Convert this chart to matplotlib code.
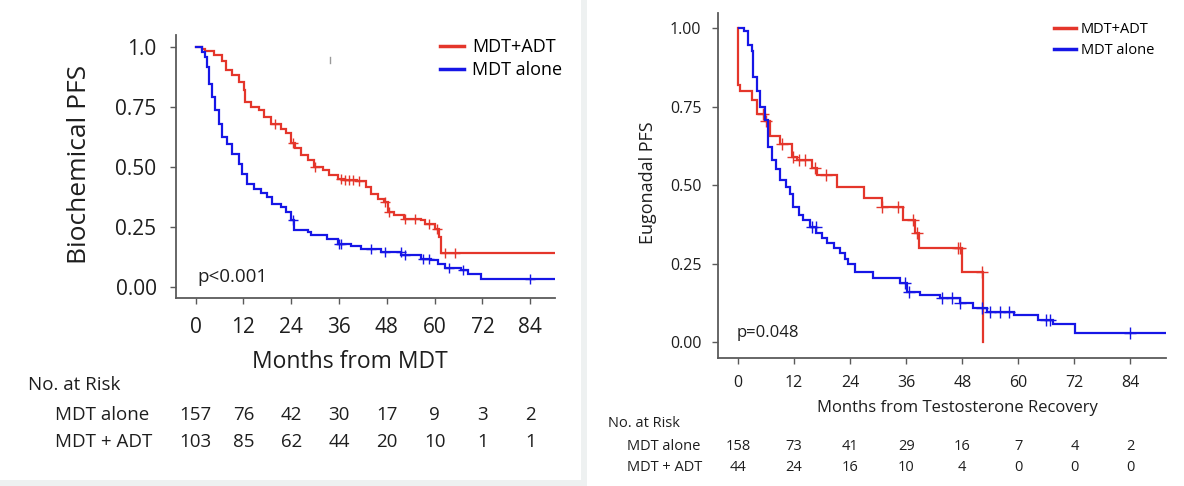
import numpy as np
import matplotlib
matplotlib.use("Agg")
import matplotlib.pyplot as plt
from matplotlib.lines import Line2D
from matplotlib.patches import Rectangle
from matplotlib.transforms import blended_transform_factory

plt.rcParams['font.family'] = ['Open Sans', 'DejaVu Sans']

# =====================================================================
# DATA
# =====================================================================
RED = '#e4362b'
BLUE = '#1616e6'

# left panel: biochemical PFS, months from MDT
bio_adt_t = [0, 1.5, 2.5, 4.6, 6.7, 7.6, 9.2, 10.9, 12.2, 12.4, 13.8, 15.9, 17.2, 18.9,
             21.4, 22.7, 23.9, 25.0, 26.4, 28.1, 29.8, 31.9, 33.6, 35.7, 37.3, 40.5,
             42.8, 44.0, 45.7, 47.4, 48.2, 49.9, 52.4, 56.6, 57.5, 60.0, 61.2, 61.7, 90.0]
bio_adt_s = [1.0, 0.993, 0.985, 0.965, 0.94, 0.905, 0.882, 0.854, 0.82, 0.77, 0.75, 0.736, 0.708, 0.68,
             0.66, 0.64, 0.60, 0.58, 0.549, 0.528, 0.50, 0.486, 0.465, 0.451, 0.444, 0.44,
             0.417, 0.389, 0.368, 0.354, 0.313, 0.299, 0.285, 0.278, 0.264, 0.243, 0.208, 0.142, 0.142]
bio_adt_cens = [20, 24.5, 30, 36.5, 37.5, 38.5, 39.5, 41, 47.5, 48.5, 52.5, 55, 58.5, 60.5, 62.5, 65]

bio_mdt_t = [0, 1.5, 2.5, 2.9, 3.4, 4.2, 5.0, 5.9, 6.7, 8.0, 9.2, 10.9, 11.7, 13.0, 14.7, 16.4,
             18.0, 19.3, 21.4, 22.7, 23.9, 24.7, 28.1, 28.9, 33.1, 35.7, 39.0, 41.5, 46.6,
             51.6, 56.6, 59.1, 60.8, 62.5, 66.7, 68.4, 71.7, 90.0]
bio_mdt_s = [1.0, 0.98, 0.958, 0.917, 0.847, 0.79, 0.736, 0.68, 0.625, 0.597, 0.555, 0.514, 0.472, 0.43, 0.41, 0.39,
             0.375, 0.347, 0.333, 0.313, 0.278, 0.236, 0.229, 0.215, 0.201, 0.18, 0.169, 0.16, 0.146,
             0.132, 0.118, 0.111, 0.097, 0.08, 0.069, 0.056, 0.033, 0.033]
bio_mdt_cens = [24.5, 36, 36.5, 44, 47.5, 51.5, 52.5, 57, 58.5, 63.5, 67, 84]

bio_ticks = [0, 12, 24, 36, 48, 60, 72, 84]
bio_risk_mdt = [157, 76, 42, 30, 17, 9, 3, 2]
bio_risk_adt = [103, 85, 62, 44, 20, 10, 1, 1]

# right panel: eugonadal PFS, months from testosterone recovery
eug_adt_t = [0, 0.1, 0.5, 2.9, 4.0, 5.8, 6.9, 9.0, 11.5, 12.6, 15.8, 17.0, 21.1, 27.0,
             30.8, 35.4, 37.9, 38.8, 47.9, 52.4]
eug_adt_s = [1.0, 0.82, 0.80, 0.77, 0.725, 0.705, 0.655, 0.63, 0.59, 0.58, 0.553, 0.532, 0.495, 0.46,
             0.431, 0.39, 0.346, 0.298, 0.224, 0.0]
eug_adt_cens = [5.3, 6.0, 9.5, 11.8, 13.0, 14.3, 16.4, 18.8, 30.8, 34.3, 37.5, 38.4, 47.0, 47.6, 52.2]

eug_mdt_t = [0.2, 1.3, 2.2, 2.9, 3.3, 4.0, 4.7, 5.8, 6.5, 7.2, 8.2, 9.0, 10.2, 11.1, 11.8, 13.0, 14.0,
             15.4, 16.8, 18.0, 19.0, 20.5, 21.8, 23.0, 23.6, 25.1, 28.9, 34.7, 36.1, 39.0, 43.2,
             47.5, 50.4, 53.2, 59.0, 64.3, 67.5, 72.2, 91.5]
eug_mdt_s = [1.0, 0.99, 0.945, 0.928, 0.845, 0.80, 0.749, 0.707, 0.622, 0.58, 0.55, 0.516, 0.495, 0.473, 0.43, 0.405, 0.389,
             0.365, 0.346, 0.33, 0.314, 0.298, 0.282, 0.265, 0.25, 0.224, 0.203, 0.187, 0.16, 0.15, 0.139,
             0.123, 0.107, 0.096, 0.085, 0.069, 0.058, 0.028, 0.028]
eug_mdt_cens = [15.8, 16.6, 35.8, 36.6, 43.6, 45.8, 47.5, 52.2, 54.0, 56.1, 57.9, 66.0, 66.8, 84.0]

eug_ticks = [0, 12, 24, 36, 48, 60, 72, 84]
eug_risk_mdt = [158, 73, 41, 29, 16, 7, 4, 2]
eug_risk_adt = [44, 24, 16, 10, 4, 0, 0, 0]

# =====================================================================
W, H = 1184, 486


def fx(px):
    return px / W


def fy(py):
    return 1 - py / H


def surv_at(t, s, times):
    idx = np.searchsorted(t, times, side='right') - 1
    return np.asarray(s)[idx]


def km(ax, t, s, cens, color, lw, ms):
    ax.step(t, s, where='post', color=color, lw=lw, solid_joinstyle='miter')
    ax.plot(cens, surv_at(t, s, cens), ls='none', marker='+', color=color, ms=ms, mew=1)


def style_axes(ax, fs, pad):
    for side in ('top', 'right'):
        ax.spines[side].set_visible(False)
    for side in ('left', 'bottom'):
        ax.spines[side].set_color('#5a5a5a')
        ax.spines[side].set_linewidth(1.3)
    ax.tick_params(direction='out', length=4, width=1, color='#5a5a5a',
                   labelsize=fs, labelcolor='#1e1e1e', pad=pad)
    ax.set_facecolor('none')


fig = plt.figure(figsize=(W / 100, H / 100), dpi=100, facecolor='#eef1f1')
fig.add_artist(Rectangle((0, fy(480)), fx(581), 480 / H, transform=fig.transFigure,
                         facecolor='white', edgecolor='none', zorder=0))
fig.add_artist(Rectangle((fx(587), 0), 1 - fx(587), 1, transform=fig.transFigure,
                         facecolor='white', edgecolor='none', zorder=0))

# ---------------- left panel ----------------
ax1 = fig.add_axes([fx(176), fy(298), fx(555) - fx(176), (298 - 35) / H])
km(ax1, bio_adt_t, bio_adt_s, bio_adt_cens, RED, 1.6, 7)
km(ax1, bio_mdt_t, bio_mdt_s, bio_mdt_cens, BLUE, 1.6, 7)
ax1.set_xlim(-4.9, 90.2)
ax1.set_ylim(-0.046, 1.05)
ax1.set_xticks(bio_ticks)
ax1.set_yticks([0, 0.25, 0.5, 0.75, 1.0])
ax1.set_yticklabels(['0.00', '0.25', '0.50', '0.75', '1.0'])
style_axes(ax1, 15, 10)
ax1.legend(handles=[Line2D([], [], color=RED, lw=2.5), Line2D([], [], color=BLUE, lw=2.5)],
           labels=['MDT+ADT', 'MDT alone'], loc='upper right', frameon=False,
           bbox_to_anchor=(fx(562), fy(38)), bbox_transform=fig.transFigure,
           fontsize=13, handlelength=1.3, handletextpad=0.45, labelspacing=0.3,
           borderpad=0, borderaxespad=0)
fig.text(fx(197), fy(277), 'p<0.001', fontsize=13.5, ha='left', va='center', color='#1e1e1e')
fig.text(fx(79), fy(164), 'Biochemical PFS', fontsize=19, rotation=90,
         ha='center', va='center', color='#1e1e1e')
fig.text(fx(350), fy(362), 'Months from MDT', fontsize=16.5, ha='center', va='center',
         color='#1e1e1e')
fig.add_artist(Line2D([fx(330), fx(330)], [fy(57), fy(63)], color='#9a9a9a', lw=1))

tr1 = blended_transform_factory(ax1.transData, fig.transFigure)
fig.text(fx(28), fy(385), 'No. at Risk', fontsize=13.5, ha='left', va='center', color='#1e1e1e')
fig.text(fx(55), fy(415), 'MDT alone', fontsize=13.5, ha='left', va='center', color='#1e1e1e')
fig.text(fx(55), fy(442), 'MDT + ADT', fontsize=13.5, ha='left', va='center', color='#1e1e1e')
for m, a, b in zip(bio_ticks, bio_risk_mdt, bio_risk_adt):
    ax1.text(m, fy(415), str(a), transform=tr1, fontsize=13.5, ha='center', va='center',
             color='#1e1e1e')
    ax1.text(m, fy(442), str(b), transform=tr1, fontsize=13.5, ha='center', va='center',
             color='#1e1e1e')

# ---------------- right panel ----------------
ax2 = fig.add_axes([fx(718), fy(358), fx(1166) - fx(718), (358 - 13) / H])
km(ax2, eug_adt_t, eug_adt_s, eug_adt_cens, RED, 1.6, 8)
km(ax2, eug_mdt_t, eug_mdt_s, eug_mdt_cens, BLUE, 1.6, 8)
ax2.set_xlim(-4.28, 91.6)
ax2.set_ylim(-0.051, 1.048)
ax2.set_xticks(eug_ticks)
ax2.set_yticks([0, 0.25, 0.5, 0.75, 1.0])
ax2.set_yticklabels(['0.00', '0.25', '0.50', '0.75', '1.00'])
style_axes(ax2, 11.5, 8)
ax2.legend(handles=[Line2D([], [], color=RED, lw=2.5), Line2D([], [], color=BLUE, lw=2.5)],
           labels=['MDT+ADT', 'MDT alone'], loc='upper right', frameon=False,
           bbox_to_anchor=(fx(1154), fy(22)), bbox_transform=fig.transFigure,
           fontsize=10.5, handlelength=1.5, handletextpad=0.3, labelspacing=0.4,
           borderpad=0, borderaxespad=0)
fig.text(fx(737), fy(333), 'p=0.048', fontsize=12, ha='left', va='center', color='#1e1e1e')
fig.text(fx(648), fy(183), 'Eugonadal PFS', fontsize=13, rotation=90,
         ha='center', va='center', color='#1e1e1e')
fig.text(fx(957), fy(408), 'Months from Testosterone Recovery', fontsize=12,
         ha='center', va='center', color='#1e1e1e')

tr2 = blended_transform_factory(ax2.transData, fig.transFigure)
fig.text(fx(608), fy(423), 'No. at Risk', fontsize=10.5, ha='left', va='center', color='#1e1e1e')
fig.text(fx(627), fy(446), 'MDT alone', fontsize=10.5, ha='left', va='center', color='#1e1e1e')
fig.text(fx(627), fy(467), 'MDT + ADT', fontsize=10.5, ha='left', va='center', color='#1e1e1e')
for m, a, b in zip(eug_ticks, eug_risk_mdt, eug_risk_adt):
    ax2.text(m, fy(446), str(a), transform=tr2, fontsize=10.5, ha='center', va='center',
             color='#1e1e1e')
    ax2.text(m, fy(467), str(b), transform=tr2, fontsize=10.5, ha='center', va='center',
             color='#1e1e1e')

fig.savefig('out.png', dpi=100, facecolor=fig.get_facecolor())
